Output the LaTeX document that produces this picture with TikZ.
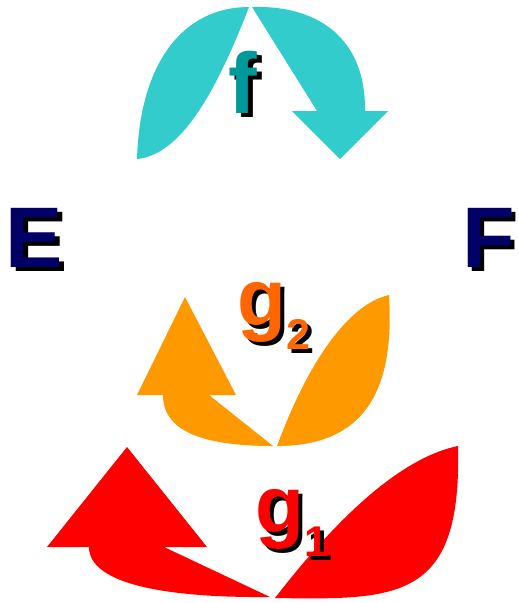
\documentclass[tikz,border=0pt]{standalone}
\usepackage{fontspec}
\setmainfont{Liberation Sans}
\usetikzlibrary{positioning}
\definecolor{fcyan}{HTML}{33CCCC}
\definecolor{fteal}{HTML}{009999}
\definecolor{setnavy}{HTML}{000066}
\definecolor{gorange}{HTML}{FF9900}
\definecolor{gtext}{HTML}{FF6600}
\definecolor{gred}{HTML}{FF0000}
% letter with a black drop shadow
\newcommand{\shtext}[2]{\rlap{\kern4.5pt\raisebox{-4.5pt}{\color{black}#2}}{\color{#1}#2}}
\newcommand{\subidx}[1]{\raisebox{-24pt}{\fontsize{43pt}{43pt}\selectfont #1}}

\begin{document}
\begin{tikzpicture}[x=1pt, y=-1pt,
    lbl/.style={inner sep=0pt, anchor=base west, font=\bfseries\fontsize{86pt}{86pt}\selectfont},
    glbl/.style={lbl, font=\bfseries\fontsize{80pt}{80pt}\selectfont}]
        \useasboundingbox (0,0) rectangle (519,603);

        % f : arrow over the top
        \fill[fcyan] (137,159) .. controls (140,60) and (185,7) .. (249,7)
            .. controls (215,95) and (180,155) .. (137,159) -- cycle;
        \fill[fcyan] (252,7) .. controls (320,5) and (366,40) .. (365,111)
            -- (388,111) -- (340,159) -- (292,111) -- (317,111) -- cycle;

        % g2 : middle arrow
        \fill[gorange] (389,295) .. controls (395,390) and (365,446) .. (277,446)
            .. controls (305,370) and (345,305) .. (389,295) -- cycle;
        \fill[gorange] (185,297) -- (236,395) -- (209,395) -- (273,446)
            .. controls (200,446) and (163,430) .. (163,395) -- (137,395) -- cycle;

        % g1 : bottom arrow
        \fill[gred] (458,446) .. controls (462,600) and (400,600) .. (275,598)
            .. controls (320,540) and (390,460) .. (458,446) -- cycle;
        \fill[gred] (127,447) -- (207,547) -- (164,547) -- (270,597)
            .. controls (170,598) and (89,585) .. (89,547) -- (47,547) -- cycle;

        % Labels
        \node[lbl] (setE) at (5.7,267) {\shtext{setnavy}{E}};
        \node[lbl] (setF) at (462,267) {\shtext{setnavy}{F}};
        \node[lbl] (mapf) at (228.5,113) {\shtext{fteal}{f}};
        \node[glbl] (mapgtwo) at (237,325) {\shtext{gtext}{g\subidx{2}}};
        \node[glbl] (mapgone) at (255,532) {\shtext{gred}{g\subidx{1}}};
    \end{tikzpicture}
\end{document}
